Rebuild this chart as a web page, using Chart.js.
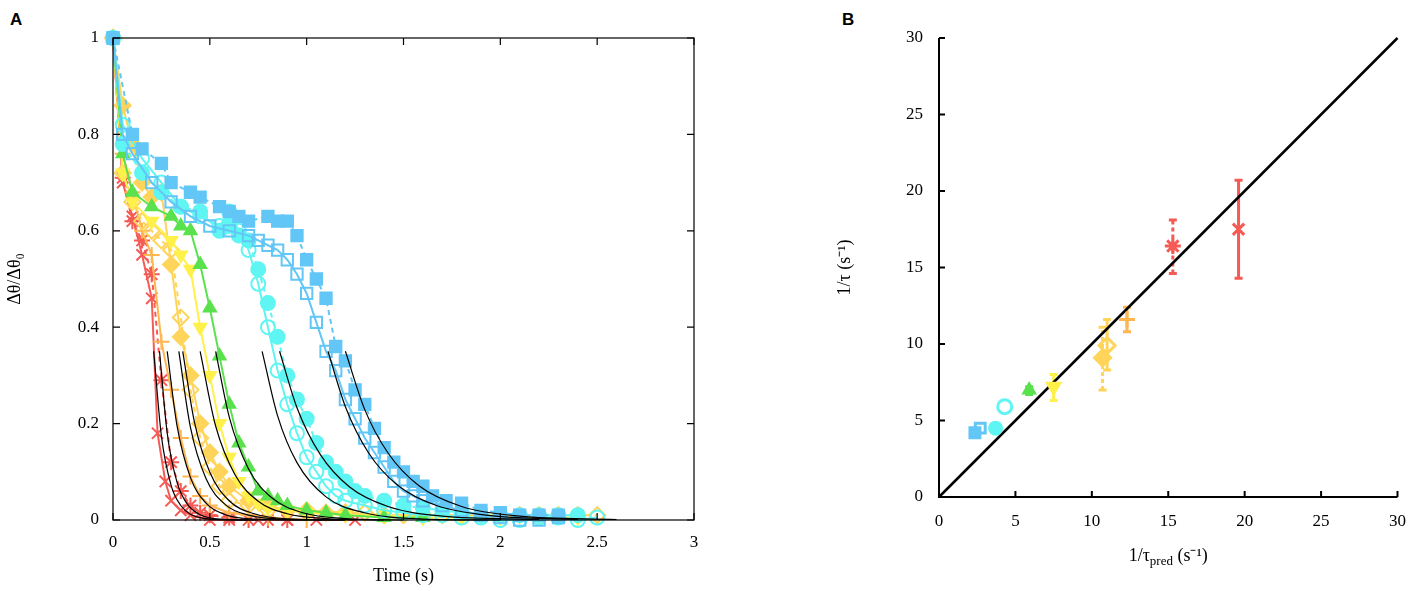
<!DOCTYPE html>
<html><head><meta charset="utf-8">
<script src="https://cdn.jsdelivr.net/npm/chart.js@4"></script>
<style>
body{margin:0;background:#fff;width:1412px;height:591px;position:relative;overflow:hidden}
#ca{position:absolute;left:0;top:0}
#cb{position:absolute;left:830px;top:0}
.lab{position:absolute;font:bold 17px "Liberation Sans",Arial;top:10px}
</style></head><body>
<div class="lab" style="left:10px">A</div>
<div class="lab" style="left:842px">B</div>
<canvas id="ca" width="720" height="591"></canvas>
<canvas id="cb" width="582" height="591"></canvas>
<script>
// Panel A — decaimento Δθ/Δθ0 no tempo, [t, valor]
const redX    = [[0,1],[0.05,0.70],[0.1,0.63],[0.15,0.55],[0.2,0.46],[0.23,0.18],[0.27,0.08],[0.3,0.04],[0.35,0.02],[0.4,0.01],[0.5,0],[0.6,0],[0.75,0],[0.9,0],[1.05,0],[1.25,0]];
const redStar = [[0,1],[0.05,0.71],[0.1,0.62],[0.15,0.58],[0.2,0.51],[0.25,0.29],[0.3,0.12],[0.35,0.06],[0.4,0.03],[0.45,0.015],[0.5,0.01],[0.6,0.005],[0.7,0],[0.8,0],[0.9,0]];
const orPlus  = [[0,1],[0.05,0.76],[0.1,0.68],[0.15,0.60],[0.2,0.55],[0.25,0.37],[0.3,0.27],[0.35,0.17],[0.4,0.09],[0.45,0.05],[0.5,0.03],[0.6,0.015],[0.7,0.01],[0.8,0.005],[1.0,0]];
const goldOpen= [[0,1],[0.05,0.72],[0.1,0.66],[0.15,0.62],[0.2,0.60],[0.25,0.58],[0.3,0.56],[0.35,0.42],[0.4,0.27],[0.45,0.17],[0.5,0.11],[0.55,0.07],[0.6,0.04],[0.7,0.03],[0.8,0.02],[0.9,0.02],[1.0,0.015],[1.1,0.015],[1.2,0.015],[1.3,0.015],[1.4,0.01],[1.5,0.01],[1.6,0.01],[1.7,0.01],[1.8,0.01],[1.9,0.01],[2.0,0.01],[2.1,0.01],[2.2,0.01],[2.3,0.01],[2.4,0.01],[2.5,0.01]];
const goldFill= [[0,1],[0.05,0.86],[0.1,0.78],[0.15,0.70],[0.2,0.67],[0.25,0.68],[0.3,0.53],[0.35,0.38],[0.4,0.30],[0.45,0.20],[0.5,0.14],[0.55,0.10],[0.6,0.07],[0.7,0.04],[0.8,0.03],[0.9,0.02],[1.0,0.02],[1.2,0.015],[1.4,0.01],[1.6,0.01]];
const yelTri  = [[0,1],[0.05,0.72],[0.1,0.66],[0.2,0.62],[0.3,0.58],[0.35,0.55],[0.4,0.52],[0.45,0.40],[0.5,0.30],[0.55,0.20],[0.6,0.13],[0.65,0.08],[0.7,0.05],[0.75,0.035],[0.8,0.025],[0.9,0.02],[1.0,0.015],[1.2,0.01],[1.4,0.01],[1.6,0.005],[1.8,0.005],[2.0,0.005],[2.2,0.005],[2.4,0.005]];
const grnTri  = [[0,1],[0.05,0.76],[0.1,0.68],[0.2,0.65],[0.3,0.63],[0.35,0.61],[0.4,0.60],[0.45,0.53],[0.5,0.44],[0.55,0.34],[0.6,0.24],[0.65,0.16],[0.7,0.11],[0.75,0.06],[0.8,0.05],[0.85,0.04],[0.9,0.03],[1.0,0.02],[1.1,0.015],[1.2,0.01],[1.4,0.005],[1.6,0.005]];
const cyOpen  = [[0,1],[0.05,0.82],[0.15,0.75],[0.25,0.70],[0.35,0.65],[0.45,0.63],[0.55,0.61],[0.6,0.64],[0.65,0.60],[0.7,0.56],[0.75,0.49],[0.8,0.40],[0.85,0.31],[0.9,0.24],[0.95,0.18],[1.0,0.13],[1.05,0.10],[1.1,0.07],[1.15,0.05],[1.2,0.04],[1.3,0.03],[1.4,0.02],[1.5,0.015],[1.6,0.01],[1.7,0.01],[1.8,0.005],[1.9,0.005],[2.0,0],[2.1,0],[2.2,0.005],[2.3,0.005],[2.4,0],[2.5,0.005]];
const cyFill  = [[0,1],[0.05,0.78],[0.15,0.72],[0.25,0.68],[0.35,0.65],[0.45,0.64],[0.55,0.60],[0.6,0.61],[0.65,0.59],[0.7,0.58],[0.75,0.52],[0.8,0.45],[0.85,0.38],[0.9,0.30],[0.95,0.25],[1.0,0.21],[1.05,0.16],[1.1,0.12],[1.15,0.10],[1.2,0.08],[1.25,0.06],[1.3,0.05],[1.4,0.04],[1.5,0.03],[1.6,0.025],[1.7,0.02],[1.8,0.015],[1.9,0.01],[2.0,0.01],[2.1,0.01],[2.2,0.01],[2.3,0.01],[2.4,0.01]];
const blOpen  = [[0,1],[0.05,0.80],[0.1,0.76],[0.2,0.70],[0.3,0.66],[0.4,0.63],[0.5,0.61],[0.6,0.60],[0.7,0.59],[0.75,0.58],[0.8,0.57],[0.85,0.56],[0.9,0.54],[0.95,0.51],[1.0,0.47],[1.05,0.41],[1.1,0.35],[1.15,0.31],[1.2,0.25],[1.25,0.21],[1.3,0.17],[1.35,0.14],[1.4,0.11],[1.45,0.08],[1.5,0.06],[1.55,0.05],[1.6,0.04],[1.7,0.03],[1.8,0.02],[1.9,0.01],[2.0,0.005],[2.1,0],[2.2,0],[2.3,0.005]];
const blFill  = [[0,1],[0.1,0.80],[0.15,0.77],[0.25,0.74],[0.3,0.70],[0.4,0.68],[0.45,0.67],[0.55,0.65],[0.6,0.64],[0.65,0.63],[0.7,0.62],[0.8,0.63],[0.85,0.62],[0.9,0.62],[0.95,0.59],[1.0,0.54],[1.05,0.50],[1.1,0.46],[1.15,0.36],[1.2,0.33],[1.25,0.27],[1.3,0.24],[1.35,0.19],[1.4,0.15],[1.45,0.12],[1.5,0.10],[1.55,0.08],[1.6,0.07],[1.65,0.05],[1.72,0.04],[1.8,0.035],[1.9,0.02],[2.0,0.015],[2.1,0.01],[2.2,0.01],[2.3,0.01]];

// Ajustes exponenciais (curvas pretas), [t, valor]
const fits = [
  [[0.21,0.35],[0.25,0.174],[0.3,0.072],[0.35,0.030],[0.4,0.012],[0.5,0.002],[0.7,0]],
  [[0.24,0.35],[0.28,0.180],[0.33,0.079],[0.38,0.035],[0.45,0.011],[0.55,0.002],[0.75,0]],
  [[0.28,0.35],[0.33,0.197],[0.4,0.088],[0.48,0.035],[0.58,0.011],[0.75,0.0016],[1.0,0]],
  [[0.34,0.35],[0.4,0.192],[0.48,0.086],[0.58,0.032],[0.7,0.010],[0.9,0.0013],[1.2,0]],
  [[0.36,0.35],[0.42,0.204],[0.5,0.099],[0.6,0.040],[0.72,0.014],[0.92,0.002],[1.2,0]],
  [[0.45,0.35],[0.53,0.195],[0.63,0.094],[0.75,0.039],[0.9,0.013],[1.1,0.003],[1.4,0]],
  [[0.53,0.35],[0.6,0.214],[0.7,0.106],[0.82,0.046],[0.98,0.015],[1.2,0.003],[1.5,0]],
  [[0.77,0.35],[0.85,0.216],[0.95,0.119],[1.1,0.048],[1.3,0.015],[1.6,0.002],[2.0,0]],
  [[0.86,0.35],[0.95,0.233],[1.07,0.136],[1.22,0.069],[1.42,0.028],[1.7,0.008],[2.2,0.001]],
  [[1.11,0.35],[1.2,0.235],[1.32,0.139],[1.47,0.072],[1.67,0.030],[1.95,0.009],[2.4,0.001]],
  [[1.2,0.35],[1.3,0.229],[1.42,0.139],[1.58,0.071],[1.8,0.028],[2.1,0.008],[2.6,0.001]]
];

// Panel B — 1/τ medido vs previsto: [x, y, erroBaixo, erroAlto]
const bRedStar = [15.3,16.4,14.6,18.1];
const bRedX    = [19.6,17.5,14.3,20.7];
const bOrPlus  = [12.3,11.6,10.8,12.4];
const bGoldOp  = [11.0,9.9,8.3,11.6];
const bGoldFi  = [10.7,9.1,7.0,11.1];
const bYelTri  = [7.5,7.2,6.3,8.0];
const bGrnTri  = [5.9,7.0,6.7,7.2];
const bCyOpen  = [4.3,5.9,5.9,5.9];
const bCyFill  = [3.7,4.5,4.5,4.5];
const bBlOpen  = [2.7,4.5,4.5,4.5];
const bBlFill  = [2.35,4.2,4.2,4.2];

const xTicksA = [0,0.5,1,1.5,2,2.5,3];
const yTicksA = [0,0.2,0.4,0.6,0.8,1];
const ticksB  = [0,5,10,15,20,25,30];

const C = { red:'#f65a55', orange:'#ffb650', gold:'#ffd45a', yellow:'#fff04a', green:'#5ae24e', cyan:'#5ff5f2', blue:'#62c6f6' };
const serif = '"Liberation Serif","Times New Roman",serif';

const pts = arr => arr.map(([x, y]) => ({ x, y }));
const plain = v => String(v);

// estilo: [dados, cor, pointStyle, preenchido, tracejado, rotação, raio]
const seriesA = [
  [blFill,  C.blue,   'rect',     true,  true,  0, 8],
  [blOpen,  C.blue,   'rect',     false, false, 0, 8],
  [cyFill,  C.cyan,   'circle',   true,  true,  0, 7],
  [cyOpen,  C.cyan,   'circle',   false, false, 0, 7],
  [grnTri,  C.green,  'triangle', true,  false, 0, 7],
  [yelTri,  C.yellow, 'triangle', true,  false, 180, 7],
  [goldFill,C.gold,   'rectRot',  true,  false, 0, 8],
  [goldOpen,C.gold,   'rectRot',  false, true,  0, 8],
  [orPlus,  C.orange, 'cross',    false, false, 0, 8],
  [redStar, C.red,    'star',     false, true,  0, 8],
  [redX,    C.red,    'crossRot', false, false, 0, 8]
];

const dsA = [];
fits.forEach(f => dsA.push({
  data: pts(f), borderColor: '#000', borderWidth: 1.2, pointRadius: 0,
  cubicInterpolationMode: 'monotone', order: 0
}));
seriesA.forEach(([d, col, ps, fill, dash, rot, r]) => dsA.push({
  data: pts(d), borderColor: col, borderWidth: 2, borderDash: dash ? [5, 4] : [],
  pointStyle: ps, pointRotation: rot, pointRadius: r, pointBorderWidth: 2,
  pointBackgroundColor: fill ? col : 'rgba(0,0,0,0)', pointBorderColor: col, order: 1
}));

// Moldura com ticks para dentro nos quatro lados
const frameA = {
  id: 'frameA',
  afterDraw(chart) {
    const { ctx, chartArea: a, scales: { x, y } } = chart;
    ctx.save();
    ctx.strokeStyle = '#000'; ctx.lineWidth = 1.2;
    ctx.strokeRect(a.left, a.top, a.right - a.left, a.bottom - a.top);
    ctx.beginPath();
    xTicksA.forEach(v => { const p = x.getPixelForValue(v);
      ctx.moveTo(p, a.bottom); ctx.lineTo(p, a.bottom - 7);
      ctx.moveTo(p, a.top); ctx.lineTo(p, a.top + 7); });
    yTicksA.forEach(v => { const p = y.getPixelForValue(v);
      ctx.moveTo(a.left, p); ctx.lineTo(a.left + 7, p);
      ctx.moveTo(a.right, p); ctx.lineTo(a.right - 7, p); });
    ctx.stroke();
    ctx.restore();
  }
};

new Chart(document.getElementById('ca'), {
  type: 'line',
  data: { datasets: dsA },
  options: {
    responsive: false, animation: false, clip: false,
    layout: { padding: { top: 38, right: 26, left: 0, bottom: 0 } },
    plugins: { legend: { display: false }, tooltip: { enabled: false } },
    scales: {
      x: { type: 'linear', min: 0, max: 3,
        afterBuildTicks: s => { s.ticks = xTicksA.map(v => ({ value: v })); },
        afterFit: s => { s.height = 71; },
        grid: { display: false }, border: { display: false },
        ticks: { color: '#000', font: { family: serif, size: 17 }, padding: 4, callback: plain },
        title: { display: true, text: 'Time (s)', color: '#000', font: { family: serif, size: 18 }, padding: { top: 2 } } },
      y: { type: 'linear', min: 0, max: 1,
        afterBuildTicks: s => { s.ticks = yTicksA.map(v => ({ value: v })); },
        afterFit: s => { s.width = 113; },
        grid: { display: false }, border: { display: false },
        ticks: { color: '#000', font: { family: serif, size: 17 }, padding: 6, callback: plain },
        title: { display: true, text: 'Δθ/Δθ₀', color: '#000', font: { family: serif, size: 18 } } }
    }
  },
  plugins: [frameA]
});

// Panel B
const seriesB = [
  [bBlFill,  C.blue,   'rect',     true,  true,  0, 7],
  [bBlOpen,  C.blue,   'rect',     false, false, 0, 7],
  [bCyFill,  C.cyan,   'circle',   true,  true,  0, 6],
  [bCyOpen,  C.cyan,   'circle',   false, false, 0, 7],
  [bGrnTri,  C.green,  'triangle', true,  false, 0, 6],
  [bYelTri,  C.yellow, 'triangle', true,  false, 180, 7],
  [bGoldFi,  C.gold,   'rectRot',  true,  true,  0, 8],
  [bGoldOp,  C.gold,   'rectRot',  false, false, 0, 8],
  [bOrPlus,  C.orange, 'cross',    false, false, 0, 8],
  [bRedStar, C.red,    'star',     false, true,  0, 8],
  [bRedX,    C.red,    'crossRot', false, false, 0, 8]
];

const dsB = [{ data: [{ x: 0, y: 0 }, { x: 30, y: 30 }], showLine: true, borderColor: '#000', borderWidth: 2.5, pointRadius: 0, order: 2 }];
seriesB.forEach(([d, col, ps, fill, dash, rot, r]) => dsB.push({
  data: [{ x: d[0], y: d[1], lo: d[2], hi: d[3] }], showLine: false, errDash: dash,
  pointStyle: ps, pointRotation: rot, pointRadius: r, pointBorderWidth: 3,
  pointBackgroundColor: fill ? col : 'rgba(0,0,0,0)', pointBorderColor: col, errColor: col, order: 1
}));

// Barras de erro + eixos com ticks internos + título com subscrito
const extrasB = {
  id: 'extrasB',
  beforeDatasetsDraw(chart) {
    const { ctx, scales: { x, y } } = chart;
    ctx.save(); ctx.lineWidth = 3;
    chart.data.datasets.forEach(ds => {
      if (!ds.errColor) return;
      const p = ds.data[0];
      if (p.hi - p.lo < 0.1) return;
      const px = x.getPixelForValue(p.x), y1 = y.getPixelForValue(p.lo), y2 = y.getPixelForValue(p.hi);
      ctx.strokeStyle = ds.errColor;
      ctx.setLineDash(ds.errDash ? [4, 3] : []);
      ctx.beginPath(); ctx.moveTo(px, y1); ctx.lineTo(px, y2); ctx.stroke();
      ctx.setLineDash([]);
      ctx.beginPath(); ctx.moveTo(px - 4, y1); ctx.lineTo(px + 4, y1);
      ctx.moveTo(px - 4, y2); ctx.lineTo(px + 4, y2); ctx.stroke();
    });
    ctx.restore();
  },
  afterDraw(chart) {
    const { ctx, chartArea: a, scales: { x, y } } = chart;
    ctx.save(); ctx.strokeStyle = '#000'; ctx.lineWidth = 2;
    ctx.beginPath();
    ctx.moveTo(a.left, a.top); ctx.lineTo(a.left, a.bottom); ctx.lineTo(a.right, a.bottom);
    ticksB.forEach(v => {
      const px = x.getPixelForValue(v); ctx.moveTo(px, a.bottom); ctx.lineTo(px, a.bottom - 6);
      const py = y.getPixelForValue(v); ctx.moveTo(a.left, py); ctx.lineTo(a.left + 6, py);
    });
    ctx.stroke();
    ctx.fillStyle = '#000'; ctx.textBaseline = 'alphabetic';
    const cx = (a.left + a.right) / 2, by = a.bottom + 64;
    const t1 = '1/τ', t3 = ' (s⁻¹)';
    ctx.font = '13px ' + serif; const w2 = ctx.measureText('pred').width;
    ctx.font = '18px ' + serif;
    const w1 = ctx.measureText(t1).width, w3 = ctx.measureText(t3).width;
    let sx = cx - (w1 + w2 + w3) / 2;
    ctx.textAlign = 'left';
    ctx.fillText(t1, sx, by); sx += w1;
    ctx.font = '13px ' + serif; ctx.fillText('pred', sx, by + 4); sx += w2;
    ctx.font = '18px ' + serif; ctx.fillText(t3, sx, by);
    ctx.restore();
  }
};

new Chart(document.getElementById('cb'), {
  type: 'scatter',
  data: { datasets: dsB },
  options: {
    responsive: false, animation: false, clip: false,
    layout: { padding: { top: 38, right: 14, left: 0, bottom: 0 } },
    plugins: { legend: { display: false }, tooltip: { enabled: false } },
    scales: {
      x: { type: 'linear', min: 0, max: 30,
        afterBuildTicks: s => { s.ticks = ticksB.map(v => ({ value: v })); },
        afterFit: s => { s.height = 94; },
        grid: { display: false }, border: { display: false },
        ticks: { color: '#000', font: { family: serif, size: 17 }, padding: 6 } },
      y: { type: 'linear', min: 0, max: 30,
        afterBuildTicks: s => { s.ticks = ticksB.map(v => ({ value: v })); },
        afterFit: s => { s.width = 109; },
        grid: { display: false }, border: { display: false },
        ticks: { color: '#000', font: { family: serif, size: 17 }, padding: 8 },
        title: { display: true, text: '1/τ (s⁻¹)', color: '#000', font: { family: serif, size: 18 }, padding: { bottom: 14 } } }
    }
  },
  plugins: [extrasB]
});
</script>
</body></html>
